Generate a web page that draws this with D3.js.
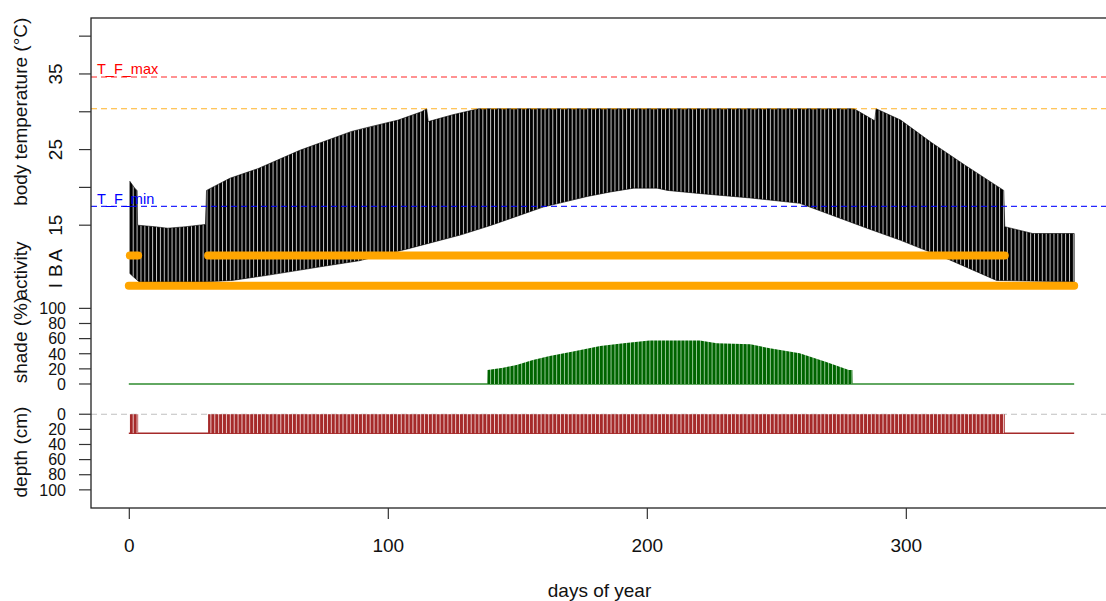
<!DOCTYPE html>
<html><head><meta charset="utf-8">
<script src="https://cdn.jsdelivr.net/npm/d3@7"></script>
<style>body{margin:0;background:#fff} text{font-family:"Liberation Sans",Arial,sans-serif}</style>
</head><body><svg id="c" width="1106" height="601"></svg>
<script>
// ---- data ----
const tbMaxDays = [0.4, 2.5, 3.2, 3.4, 10, 15, 22, 29.6, 30, 39, 50, 66, 86, 93, 104, 113, 115, 115.6, 125, 135, 280, 288, 288.5, 298, 310, 323, 337.8, 338.2, 349, 365];
const tbMax     = [20.8, 19.8, 19.6, 15.0, 14.8, 14.6, 14.8, 15.1, 19.6, 21.2, 22.5, 24.9, 27.4, 28.0, 28.9, 30.0, 30.4, 28.7, 29.6, 30.4, 30.4, 28.8, 30.4, 28.9, 25.9, 22.9, 19.6, 14.8, 13.9, 13.9];
const tbMinDays = [0.4, 3, 4, 15, 29, 40, 54, 74, 89, 108, 128, 140, 160, 177, 186, 195, 204, 208, 220, 240, 259, 285, 298, 317, 335, 365];
const tbMin     = [8.6, 7.8, 7.5, 7.5, 7.5, 7.7, 8.4, 9.5, 10.3, 11.9, 13.7, 15.0, 17.4, 18.8, 19.4, 19.9, 19.9, 19.6, 19.2, 18.6, 17.9, 14.6, 13.0, 10.4, 7.7, 7.5];

const shadeDays = [138.4, 138.5, 144.5, 149.7, 156, 162.5, 171.5, 182, 191, 201, 220.5, 227, 240, 247.5, 259, 269, 278, 279.4, 279.5];
const shadePct  = [0, 18.5, 21.6, 25, 31.8, 37, 42.8, 50.3, 53.9, 57.4, 57.4, 53.9, 52.5, 47.2, 40.6, 29.5, 18.5, 18.5, 0];

const activeStart = [0.4, 30.6];
const activeEnd   = [3.6, 338.2];
const restStart = [0];
const restEnd   = [365];
const surfaceStart = [0.4, 30.6];
const surfaceEnd   = [3.6, 338.2];
const burrowDepth = 25;       // cm
const yearFirst = 0, yearLast = 365;

const TF_max = 34.6, T_pref = 30.4, TF_min = 17.5;

const xTicks = [0, 100, 200, 300];
const xTickLabels = ["0", "100", "200", "300"];
const tempTicks = [15, 20, 25, 30, 35, 40];
const tempTickLabels = ["15", "", "25", "", "35", ""];
const actLevels = [0, 1, 2];
const actLabels = ["I", "B", "A"];
const shadeTicks = [0, 20, 40, 60, 80, 100];
const shadeTickLabels = ["0", "20", "40", "60", "80", "100"];
const depthTicks = [0, 20, 40, 60, 80, 100];
const depthTickLabels = ["0", "20", "40", "60", "80", "100"];

// ---- mapping of stacked panels onto the temperature scale ----
const actToY = a => 7 + 2 * a;
const shadeToY = s => s / 10 - 6;
const depthToY = d => -10 - d / 10;

const svg = d3.select("#c");
const x = d3.scaleLinear().domain([-14.6, 379.6]).range([91, 1112]);
const y = d3.scaleLinear().domain([-22.4, 42.4]).range([508, 18]);
const FS = 19, FS_SMALL = 16;

// patterns (visual texture of the dense hourly trace)
const defs = svg.append("defs");
const dayPx = x(1) - x(0);
function stripes(id, bg, fg, w, sw) {
  const p = defs.append("pattern").attr("id", id).attr("patternUnits", "userSpaceOnUse")
    .attr("width", w).attr("height", 10).attr("x", x(0));
  p.append("rect").attr("width", w).attr("height", 10).attr("fill", bg);
  p.append("rect").attr("x", 0).attr("width", sw).attr("height", 10).attr("fill", fg);
}
stripes("pBlack", "#000", "#c4c4c4", dayPx * 1.5, 1.0);
stripes("pGreen", "#006400", "#a6d3a6", dayPx * 1.5, 0.9);
stripes("pBrown", "#A52A2A", "#f1d6d6", dayPx * 1.5, 0.9);

// body temperature band
const upper = tbMaxDays.map((d, i) => [x(d), y(tbMax[i])]);
const lower = tbMinDays.map((d, i) => [x(d), y(tbMin[i])]).reverse();
svg.append("path").attr("d", d3.line()(upper.concat(lower)) + "Z")
  .attr("fill", "url(#pBlack)").attr("stroke", "#000").attr("stroke-width", 0.6);

// threshold lines
const xl = 91, xr = 1112;
[[TF_max, "#ff0000"], [T_pref, "#ffa500"], [TF_min, "#0000ff"]].forEach(([v, c]) => {
  svg.append("line").attr("x1", xl).attr("x2", xr).attr("y1", y(v)).attr("y2", y(v))
    .attr("stroke", c).attr("stroke-width", 1.2).attr("stroke-dasharray", "6,4").attr("opacity", 0.85);
});
svg.append("text").attr("x", 97).attr("y", y(TF_max) - 3).attr("font-size", 14.5).attr("fill", "#ff0000").text("T_F_max");
svg.append("text").attr("x", 97).attr("y", y(TF_min) - 2.5).attr("font-size", 14.5).attr("fill", "#0000ff").text("T_F_min");

// activity
const actLine = d3.line();
restStart.forEach((s, i) => {
  svg.append("path").attr("d", actLine([[x(s), y(actToY(0))], [x(restEnd[i]), y(actToY(0))]]))
    .attr("stroke", "#ffa500").attr("stroke-width", 8).attr("stroke-linecap", "round");
});
activeStart.forEach((s, i) => {
  svg.append("path").attr("d", actLine([[x(s), y(actToY(2))], [x(activeEnd[i]), y(actToY(2))]]))
    .attr("stroke", "#ffa500").attr("stroke-width", 8).attr("stroke-linecap", "round");
});

// shade
svg.append("line").attr("x1", x(yearFirst)).attr("x2", x(yearLast)).attr("y1", y(shadeToY(0))).attr("y2", y(shadeToY(0)))
  .attr("stroke", "#2e8b2e").attr("stroke-width", 1.5);
const shadeArea = d3.area().x((d, i) => x(shadeDays[i])).y0(y(shadeToY(0))).y1((d, i) => y(shadeToY(shadePct[i])));
svg.append("path").attr("d", shadeArea(shadePct)).attr("fill", "url(#pGreen)");

// depth
svg.append("line").attr("x1", xl).attr("x2", xr).attr("y1", y(depthToY(0))).attr("y2", y(depthToY(0)))
  .attr("stroke", "#c0c0c0").attr("stroke-width", 1.2).attr("stroke-dasharray", "6,4");
svg.append("line").attr("x1", x(yearFirst)).attr("x2", x(yearLast)).attr("y1", y(depthToY(burrowDepth))).attr("y2", y(depthToY(burrowDepth)))
  .attr("stroke", "#A52A2A").attr("stroke-width", 1.5);
surfaceStart.forEach((s, i) => {
  svg.append("rect").attr("x", x(s)).attr("width", x(surfaceEnd[i]) - x(s))
    .attr("y", y(depthToY(0))).attr("height", y(depthToY(burrowDepth)) - y(depthToY(0)))
    .attr("fill", "url(#pBrown)");
});

// box
svg.append("rect").attr("x", xl).attr("y", 18).attr("width", xr - xl).attr("height", 490)
  .attr("fill", "none").attr("stroke", "#222").attr("stroke-width", 1.3);

// x axis
const xa = svg.append("g").attr("transform", "translate(0,508)")
  .call(d3.axisBottom(x).tickValues(xTicks).tickFormat((d, i) => xTickLabels[i]).tickSize(11).tickPadding(20));
xa.select(".domain").remove();
xa.selectAll("line").attr("stroke", "#333").attr("stroke-width", 1.2);
xa.selectAll("text").attr("font-size", FS).attr("font-family", "Liberation Sans, Arial, sans-serif").attr("fill", "#111");
svg.append("text").attr("x", (xl + xr) / 2 - 2).attr("y", 597).attr("text-anchor", "middle").attr("font-size", FS).attr("fill", "#111").text("days of year");

// y axes
function leftTicks(vals, map) {
  const g = svg.append("g");
  g.selectAll("line").data(vals).join("line")
    .attr("x1", 79).attr("x2", xl).attr("y1", v => y(map(v))).attr("y2", v => y(map(v)))
    .attr("stroke", "#333").attr("stroke-width", 1.2);
  return g;
}
leftTicks(tempTicks, v => v);
tempTicks.forEach((t, i) => {
  if (!tempTickLabels[i]) return;
  svg.append("text").attr("transform", `translate(62,${y(t)}) rotate(-90)`).attr("text-anchor", "middle")
    .attr("font-size", FS).attr("fill", "#111").text(tempTickLabels[i]);
});
actLevels.forEach((a, i) => {
  svg.append("text").attr("transform", `translate(62,${y(actToY(a))}) rotate(-90)`).attr("text-anchor", "middle")
    .attr("font-size", FS).attr("fill", "#111").text(actLabels[i]);
});
leftTicks(shadeTicks, shadeToY);
shadeTicks.forEach((t, i) => {
  svg.append("text").attr("x", 66).attr("y", y(shadeToY(t))).attr("dy", "0.36em").attr("text-anchor", "end")
    .attr("font-size", FS_SMALL).attr("fill", "#111").text(shadeTickLabels[i]);
});
leftTicks(depthTicks, depthToY);
depthTicks.forEach((t, i) => {
  svg.append("text").attr("x", 66).attr("y", y(depthToY(t))).attr("dy", "0.36em").attr("text-anchor", "end")
    .attr("font-size", FS_SMALL).attr("fill", "#111").text(depthTickLabels[i]);
});

// axis titles
function ytitle(txt, cy) {
  svg.append("text").attr("transform", `translate(27,${cy}) rotate(-90)`).attr("text-anchor", "middle")
    .attr("font-size", FS).attr("fill", "#111").text(txt);
}
ytitle("body temperature (°C)", y(30));
ytitle("activity", y(actToY(1)));
ytitle("shade (%)", 340);
ytitle("depth (cm)", y(depthToY(50)));
</script></body></html>
